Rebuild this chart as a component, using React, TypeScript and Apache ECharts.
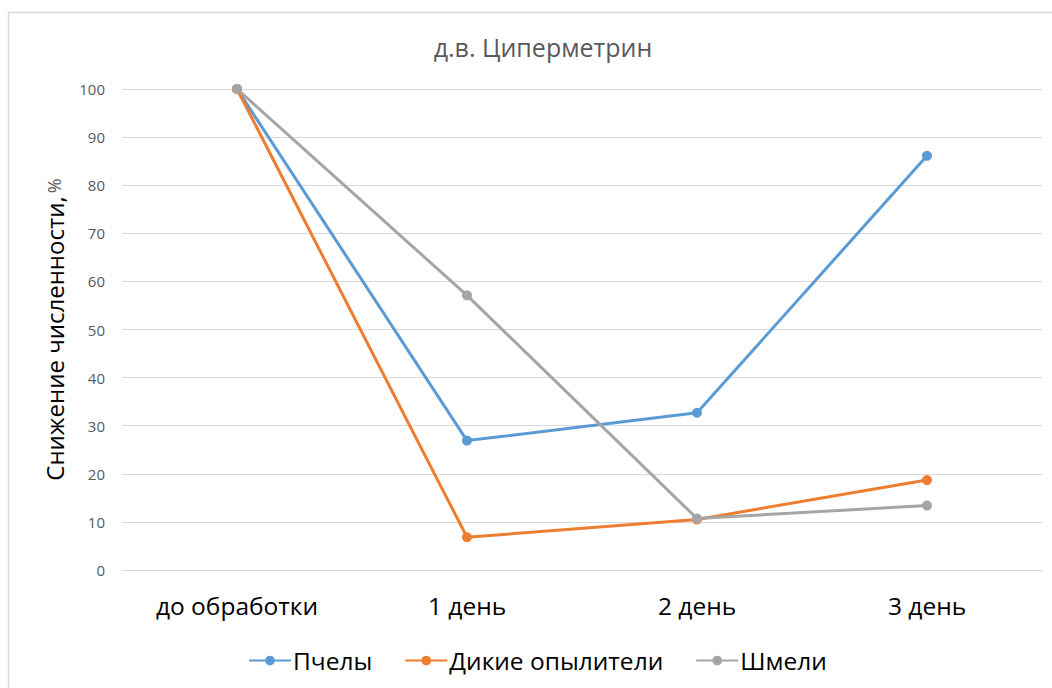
import React, { useEffect, useRef } from "react";
import * as echarts from "echarts";

const categories = ["до обработки", "1 день", "2 день", "3 день"];
const bees = [100, 26.9, 32.7, 86.1];
const wildPollinators = [100, 6.8, 10.5, 18.7];
const bumblebees = [100, 57.1, 10.7, 13.4];
const seriesNames = ["Пчелы", "Дикие опылители", "Шмели"];
const colors = ["#5B9BD5", "#ED7D31", "#A5A5A5"];
const title = "д.в. Циперметрин";
const yNameMain = "Снижение численности,";
const yNameUnit = "%";

const FONT = "'Open Sans', 'Noto Sans', sans-serif";

export default function App() {
  const ref = useRef<HTMLDivElement>(null);
  useEffect(() => {
    if (!ref.current) return;
    const chart = echarts.init(ref.current, undefined, { renderer: "svg" });
    const mk = (name: string, data: number[], color: string) => ({
      name,
      type: "line",
      data,
      symbol: "circle",
      symbolSize: 10,
      lineStyle: { width: 3, color },
      itemStyle: { color },
    });
    chart.setOption({
      animation: false,
      textStyle: { fontFamily: FONT },
      graphic: [
        {
          type: "rect",
          shape: { x: 8.5, y: 12.5, width: 1100, height: 700 },
          style: { fill: "none", stroke: "#D9D9D9", lineWidth: 1.5 },
          silent: true,
        },
      ],
      title: {
        text: title,
        left: 538,
        top: 29,
        textAlign: "center",
        textStyle: { fontFamily: FONT, fontSize: 25, fontWeight: "normal", color: "#595959" },
      },
      legend: {
        data: seriesNames,
        left: 248,
        top: 648,
        padding: 0,
        itemWidth: 42,
        itemHeight: 12,
        itemGap: 32,
        textStyle: { fontFamily: FONT, fontSize: 24.5, color: "#000", padding: [0, 0, 0, -3] },
      },
      grid: { left: 122, right: 10, top: 89, bottom: 118 },
      xAxis: {
        type: "category",
        data: categories,
        boundaryGap: true,
        axisLine: { show: true, lineStyle: { color: "#D9D9D9", width: 1 } },
        axisTick: { show: false },
        axisLabel: { fontFamily: FONT, fontSize: 24.5, color: "#000", margin: 23 },
      },
      yAxis: {
        type: "value",
        min: 0,
        max: 100,
        interval: 10,
        name: "{a|" + yNameMain + "} {b|" + yNameUnit + "}",
        nameLocation: "middle",
        nameGap: 56,
        nameTextStyle: {
          rich: {
            a: { fontFamily: FONT, fontSize: 24, color: "#000" },
            b: { fontFamily: FONT, fontSize: 18, color: "#595959" },
          },
        },
        axisLine: { show: false },
        axisTick: { show: false },
        axisLabel: { fontFamily: FONT, fontSize: 15, color: "#595959", margin: 17 },
        splitLine: { lineStyle: { color: "#D9D9D9", width: 1 } },
      },
      series: [
        mk(seriesNames[0], bees, colors[0]),
        mk(seriesNames[1], wildPollinators, colors[1]),
        mk(seriesNames[2], bumblebees, colors[2]),
      ],
    });
    return () => chart.dispose();
  }, []);
  return (
    <div
      ref={ref}
      style={{ position: "fixed", left: 0, top: 0, width: 1052, height: 688, background: "#fff" }}
    />
  );
}
